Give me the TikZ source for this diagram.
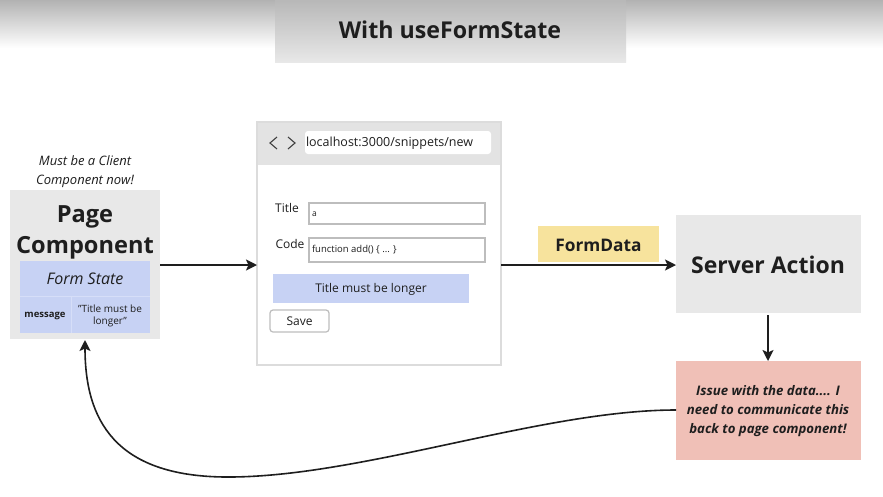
\documentclass[tikz,border=0pt]{standalone}
\usepackage{fontspec}
\setmainfont{Open Sans}
\usetikzlibrary{arrows.meta}
\definecolor{boxgray}{HTML}{E8E8E8}
\definecolor{hdrgray}{HTML}{E3E3E3}
\definecolor{framegray}{HTML}{DCDCDC}
\definecolor{inputgray}{HTML}{BDBDBD}
\definecolor{formblue}{HTML}{C7D2F4}
\definecolor{dividerblue}{HTML}{D6DEF8}
\definecolor{labelyellow}{HTML}{F7E39D}
\definecolor{issuepink}{HTML}{F0C0B7}
\definecolor{inkdark}{HTML}{1E1E1E}
\newcommand{\fs}[1]{\fontsize{#1}{#1}\selectfont}
\tikzset{
  box/.style={draw=none, inner sep=0pt, outer sep=0pt},
  txt/.style={inner sep=0pt, outer sep=0pt, text=inkdark, align=center},
  flow/.style={line width=1.8pt, draw=inkdark, -{Stealth[length=11pt,width=11pt,inset=2.5pt]}},
  inputbox/.style={draw=inputgray, line width=1.6pt, fill=white, inner sep=0pt, outer sep=0pt},
}
\begin{document}
\begin{tikzpicture}[x=1pt,y=-1pt]
\useasboundingbox (0,0) rectangle (883,496);
\fill[white] (0,0) rectangle (883,496);
% top gradient
\shade[top color=black!30, bottom color=white] (0,0) rectangle (883,48);
% title
\shade[top color=black!28, bottom color=black!9] (275,0) rectangle (626,62);
\node[box, minimum width=351pt, minimum height=62pt] (titlebox) at (450.5,31) {};
\node[txt, font=\bfseries\fs{23.2}] (title) at (450,30) {With useFormState};

% page component
\node[txt, font=\itshape\fs{13}, align=center] (note) at (85,172) {Must be a Client\\[6pt]Component now!};
\node[box, fill=boxgray, minimum width=150pt, minimum height=149pt] (page) at (85,264.5) {};
\node[txt, font=\bfseries\fs{23.6}] (pagetitle) at (85,232) {Page\\[7.5pt]Component};
\node[box, fill=formblue, minimum width=130pt, minimum height=72pt] (formstate) at (85,297) {};
\draw[dividerblue, line width=0.8pt] (20,296) -- (150,296);
\draw[dividerblue, line width=0.8pt] (71,296) -- (71,333);
\node[txt, font=\itshape\fs{16}] (fstitle) at (85,279) {Form State};
\node[txt, font=\bfseries\fs{9.5}] (msgkey) at (45,315.5) {message};
\node[txt, font=\fs{10}] (msgval) at (110,315.5) {"Title must be\\[2pt]longer"};

% browser
\node[box, draw=framegray, line width=1.5pt, fill=white, minimum width=244pt, minimum height=243pt] (browser) at (379,243.5) {};
\fill[hdrgray] (257.75,122.75) rectangle (500.25,165);
\draw[framegray, line width=1.5pt] (257,122) rectangle (501,365);
\draw[inkdark!85, line width=1.1pt] (277,137) -- (270,143) -- (277,149);
\draw[inkdark!85, line width=1.1pt] (288,137) -- (295,143) -- (288,149);
\node[box, fill=white, rounded corners=3pt, minimum width=186pt, minimum height=23pt] (url) at (398,142.5) {};
\node[txt, font=\fs{12.5}, anchor=west] (urltext) at (306,143) {localhost:3000/snippets/new};
\node[txt, font=\fs{12}] (titlelbl) at (287,208) {Title};
\node[inputbox, minimum width=176pt, minimum height=21pt] (titlein) at (397,213.5) {};
\node[txt, font=\fs{8.5}, anchor=west] (titleval) at (312,214) {a};
\node[txt, font=\fs{12}] (codelbl) at (290,244) {Code};
\node[inputbox, minimum width=176pt, minimum height=24pt] (codein) at (397,250) {};
\node[txt, font=\fs{9.5}, anchor=west] (codeval) at (312,250) {function add() \{ ... \}};
\node[box, fill=formblue, minimum width=196pt, minimum height=29pt] (errbar) at (371,288.5) {};
\node[txt, font=\fs{12}] (errtxt) at (371,289) {Title must be longer};
\node[box, draw=inputgray, line width=1.2pt, fill=white, rounded corners=3pt, minimum width=59pt, minimum height=22pt] (save) at (299.5,321) {};
\node[txt, font=\fs{12}] (savetxt) at (299.5,321) {Save};

% server action
\node[box, fill=boxgray, minimum width=185pt, minimum height=98pt] (server) at (768.5,264) {};
\node[txt, font=\bfseries\fs{23}] (servertxt) at (768,265) {Server Action};
\node[box, fill=labelyellow, minimum width=121pt, minimum height=36pt] (fdbox) at (598.5,244) {};
\node[txt, font=\bfseries\fs{17.3}] (fdtxt) at (598.5,245) {FormData};

% issue
\node[box, fill=issuepink, minimum width=185pt, minimum height=99pt] (issue) at (768.5,410.5) {};
\node[txt, font=\bfseries\itshape\fs{13.2}] (issuetxt) at (768,411) {Issue with the data.... I\\[6pt]need to communicate this\\[6pt]back to page component!};

% connectors
\coordinate (pageR) at (160,265);
\coordinate (browserL) at (257,265);
\coordinate (browserR) at (501,265);
\coordinate (serverL) at (676,265);
\coordinate (serverB) at (768,315);
\coordinate (issueT) at (768,361);
\coordinate (issueL) at (676,410);
\coordinate (pageB) at (85,340);
\draw[flow] (pageR) -- (browserL);
\draw[flow] (browserR) -- (serverL);
\draw[flow] (serverB) -- (issueT);
\draw[flow, line width=1.6pt] (issueL) .. controls (540,410) and (360,478) .. (225,477)
  .. controls (115,476) and (85,420) .. (pageB);
\end{tikzpicture}
\end{document}
